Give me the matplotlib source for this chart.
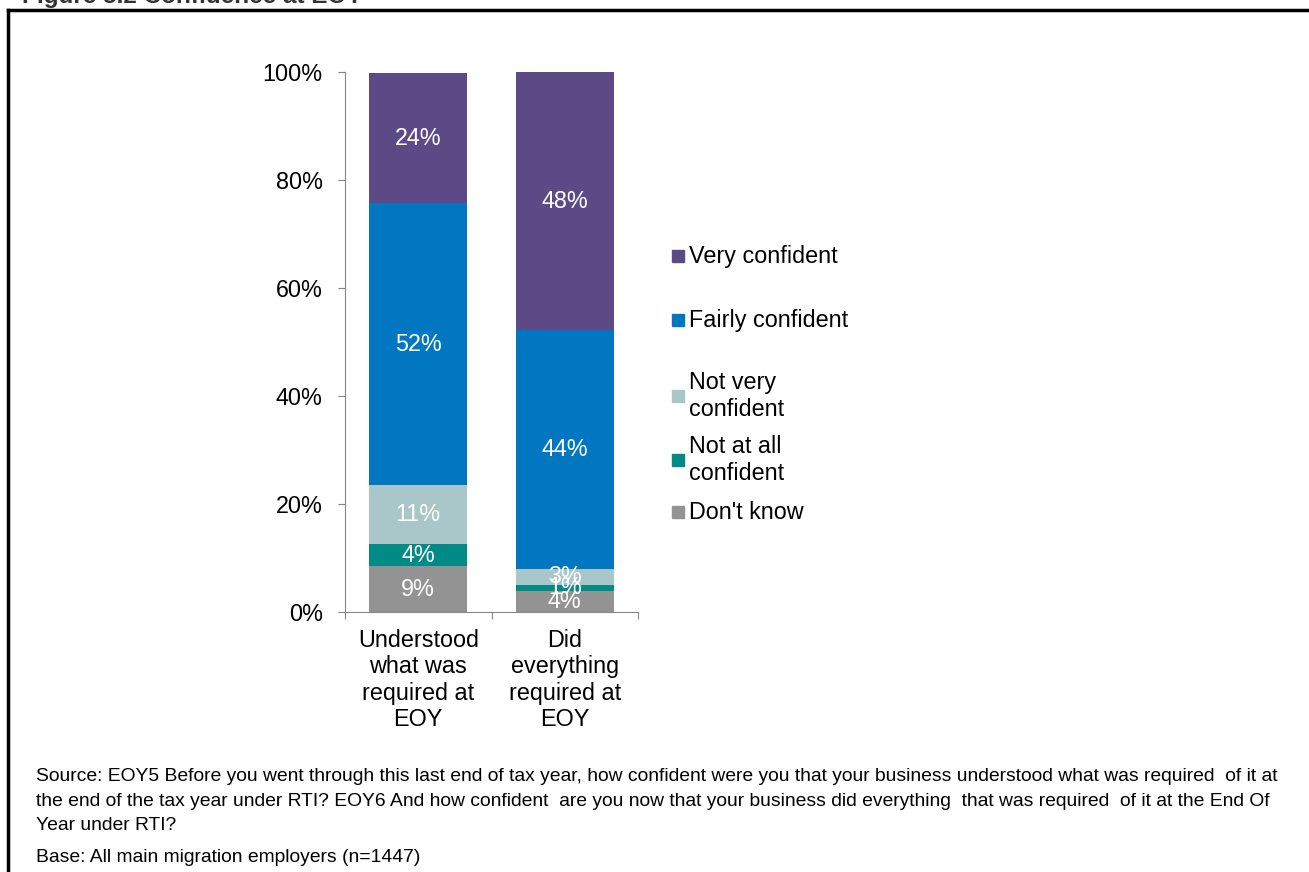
import numpy as np
import matplotlib.pyplot as plt
from matplotlib.lines import Line2D
from matplotlib.patches import Rectangle

plt.rcParams['font.family'] = ['Liberation Sans', 'DejaVu Sans']

# Data (percent of employers)
categories = ['Understood\nwhat was\nrequired at\nEOY', 'Did\neverything\nrequired at\nEOY']
series = ["Don't know", 'Not at all\nconfident', 'Not very\nconfident', 'Fairly confident', 'Very confident']
dont_know = [8.5, 3.9]
not_at_all = [4.1, 1.1]
not_very = [10.9, 3.0]
fairly = [52.2, 44.2]
very = [24.1, 47.8]
label_dont_know = ['9%', '4%']
label_not_at_all = ['4%', '1%']
label_not_very = ['11%', '3%']
label_fairly = ['52%', '44%']
label_very = ['24%', '48%']

values = [dont_know, not_at_all, not_very, fairly, very]
labels = [label_dont_know, label_not_at_all, label_not_very, label_fairly, label_very]
colors = ['#939393', '#008B87', '#A9C6C8', '#0077C0', '#5C4A87']

FS = 16.8
W, H = 1309, 872
fig = plt.figure(figsize=(W / 100, H / 100), dpi=100)
ax = fig.add_axes([345 / W, 1 - 612 / H, 293 / W, 540 / H])

x = np.arange(len(categories))
bottom = np.zeros(len(categories))
for vals, labs, color in zip(values, labels, colors):
    bars = ax.bar(x, vals, bottom=bottom, width=0.67, color=color)
    for bar, lab in zip(bars, labs):
        ax.text(bar.get_x() + bar.get_width() / 2, bar.get_y() + bar.get_height() / 2,
                lab, ha='center', va='center', color='white', fontsize=FS)
    bottom += np.array(vals)

# axes styling
ax.set_xlim(-0.5, 1.5)
ax.set_ylim(0, 100)
ax.set_yticks(np.arange(0, 101, 20))
ax.set_yticklabels([f'{v}%' for v in range(0, 101, 20)], fontsize=FS)
ax.set_xticks([-0.5, 0.5, 1.5])
ax.set_xticklabels([])
ax.set_xticks(x, minor=True)
ax.set_xticklabels(categories, minor=True, fontsize=FS, linespacing=1.2)
ax.tick_params(axis='x', which='minor', length=0, pad=12)
ax.tick_params(axis='x', which='major', length=5, color='#868686', direction='out')
ax.tick_params(axis='y', length=5, color='#868686', pad=11)
for s in ['top', 'right']:
    ax.spines[s].set_visible(False)
for s in ['left', 'bottom']:
    ax.spines[s].set_color('#868686')

# legend drawn manually (top to bottom)
legend_y = [256, 320, 396, 460, 512]
for name, color, ly in zip(series[::-1], colors[::-1], legend_y):
    fig.add_artist(Rectangle((672 / W, 1 - (ly + 6) / H), 12 / W, 12 / H,
                             transform=fig.transFigure, color=color))
    fig.text(689 / W, 1 - ly / H, name, fontsize=FS, va='center', ha='left',
             linespacing=1.2)

# frame and cut-off title
fig.add_artist(Line2D([8 / W, 8 / W], [-0.1, 1 - 10 / H], color='black', lw=2.5,
                      transform=fig.transFigure))
fig.add_artist(Line2D([8 / W, 1.1], [1 - 10 / H, 1 - 10 / H], color='black', lw=2.5,
                      transform=fig.transFigure))
fig.text(22 / W, 1 - 3 / H, 'Figure 5.2 Confidence at EOY', fontsize=17.5,
         fontweight='bold', color='#333333', va='baseline', ha='left')

# source notes
notes = [
    (776, 'Source: EOY5 Before you went through this last end of tax year, how confident were you that your business understood what was required  of it at'),
    (801, 'the end of the tax year under RTI? EOY6 And how confident  are you now that your business did everything  that was required  of it at the End Of'),
    (825, 'Year under RTI?'),
    (857, 'Base: All main migration employers (n=1447)'),
]
for ny, txt in notes:
    fig.text(36 / W, 1 - ny / H, txt, fontsize=13.9, va='center', ha='left')

fig.savefig('out.png', dpi=100)
